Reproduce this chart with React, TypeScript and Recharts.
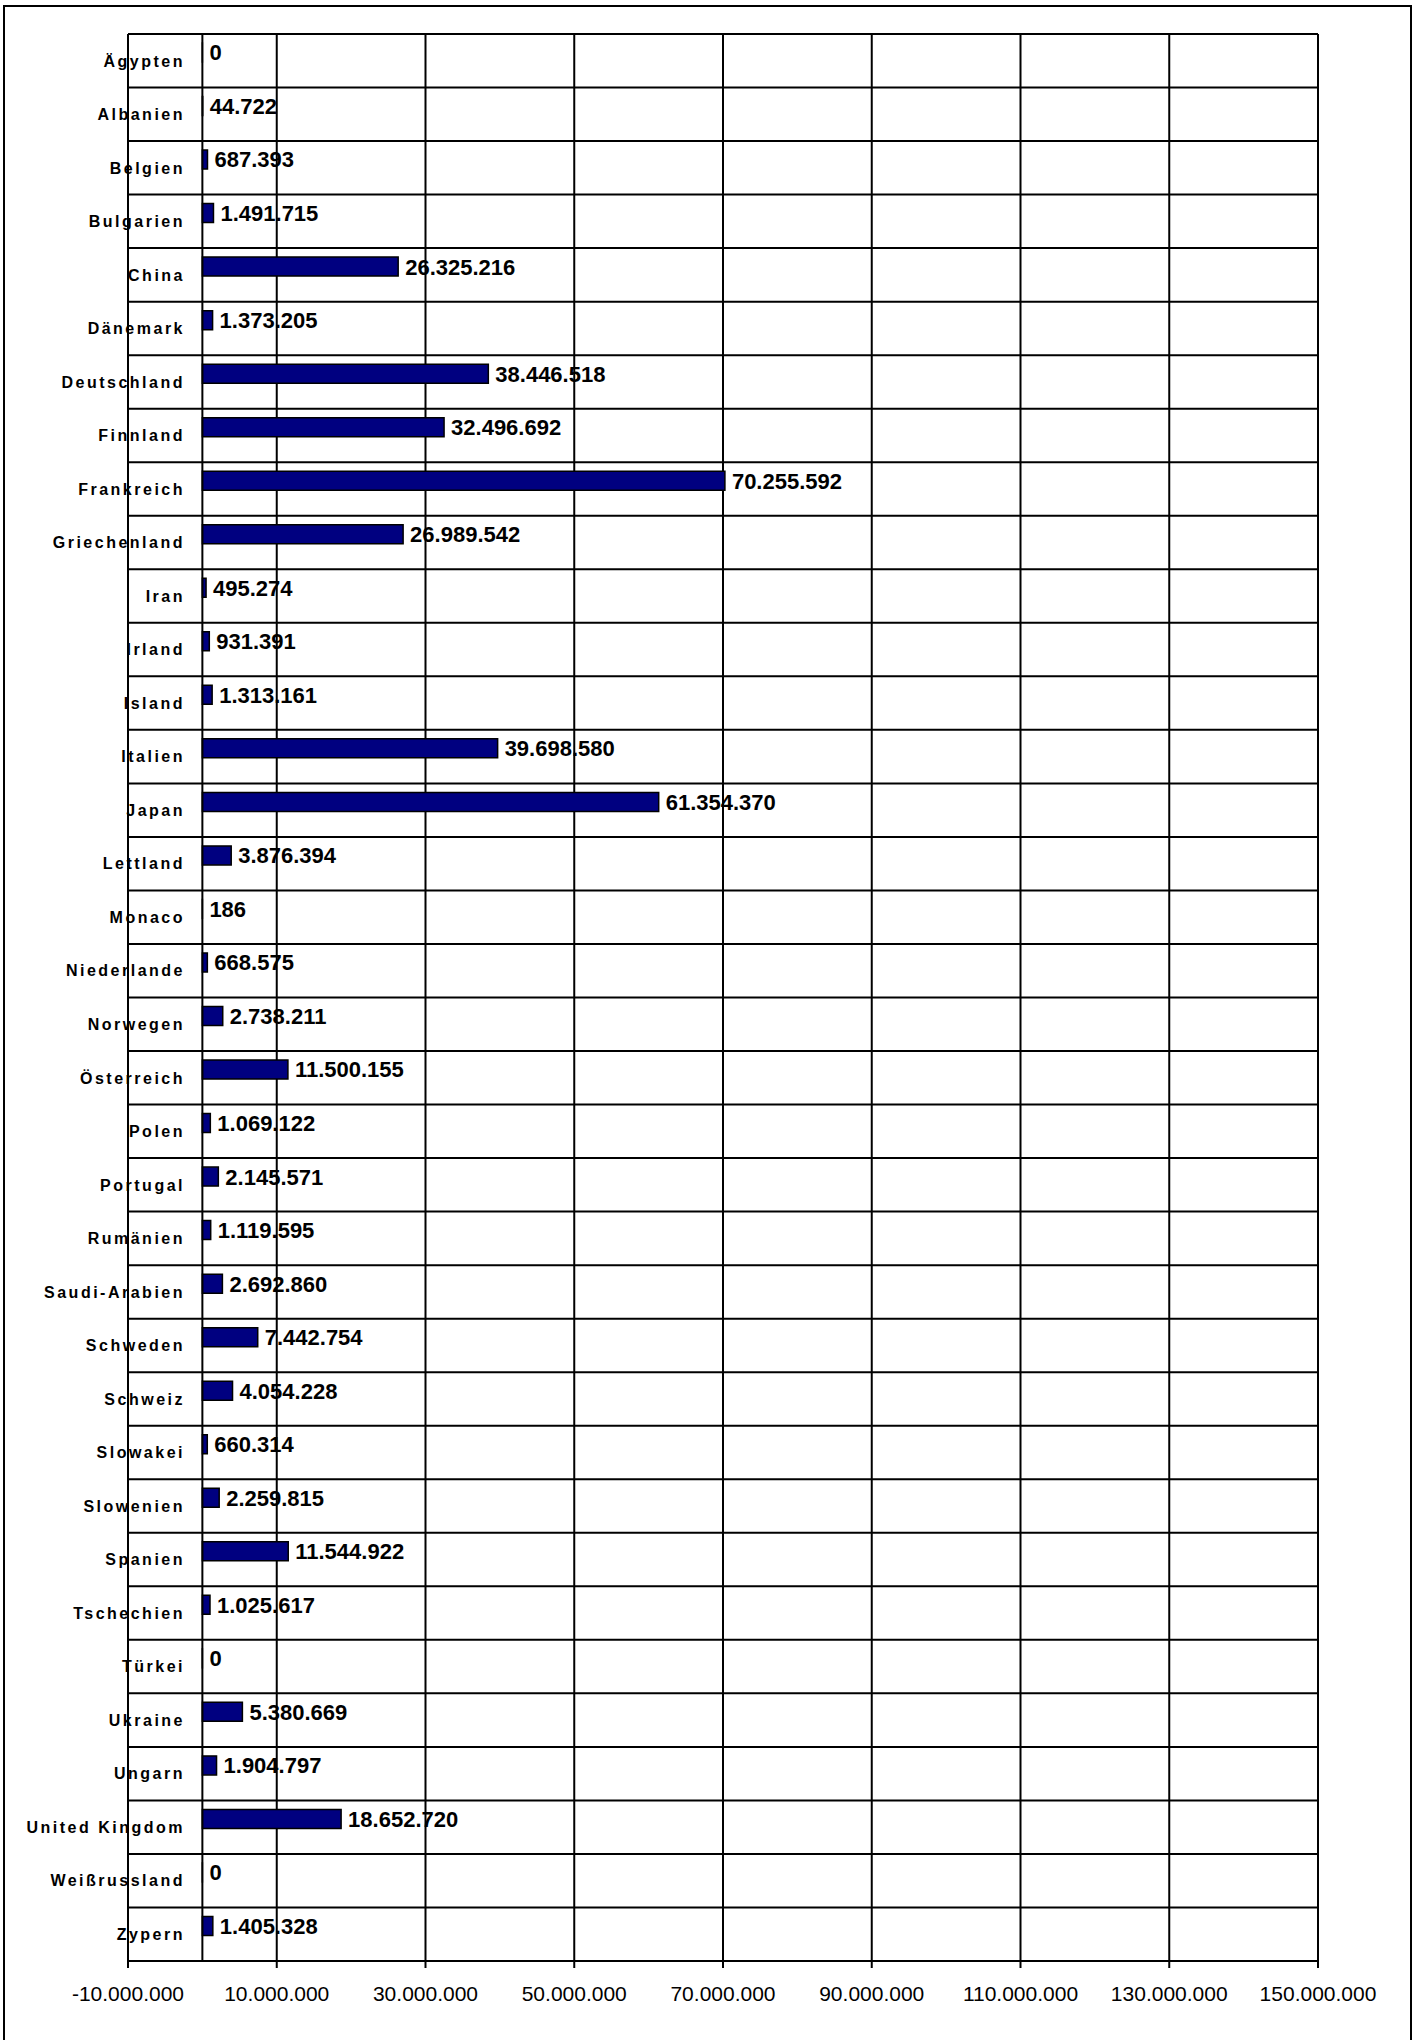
import React from "react";
import {
  BarChart,
  Bar,
  XAxis,
  YAxis,
  CartesianGrid,
  ReferenceLine,
  LabelList,
} from "recharts";

const laender = [
  "Ägypten", "Albanien", "Belgien", "Bulgarien", "China", "Dänemark",
  "Deutschland", "Finnland", "Frankreich", "Griechenland", "Iran", "Irland",
  "Island", "Italien", "Japan", "Lettland", "Monaco", "Niederlande",
  "Norwegen", "Österreich", "Polen", "Portugal", "Rumänien", "Saudi-Arabien",
  "Schweden", "Schweiz", "Slowakei", "Slowenien", "Spanien", "Tschechien",
  "Türkei", "Ukraine", "Ungarn", "United Kingdom", "Weißrussland", "Zypern",
];

const mengen = [
  0, 44722, 687393, 1491715, 26325216, 1373205,
  38446518, 32496692, 70255592, 26989542, 495274, 931391,
  1313161, 39698580, 61354370, 3876394, 186, 668575,
  2738211, 11500155, 1069122, 2145571, 1119595, 2692860,
  7442754, 4054228, 660314, 2259815, 11544922, 1025617,
  0, 5380669, 1904797, 18652720, 0, 1405328,
];

const xTicks = [
  -10000000, 10000000, 30000000, 50000000, 70000000,
  90000000, 110000000, 130000000, 150000000,
];

const data = laender.map((land, i) => ({ land, menge: mengen[i] }));

const FONT = "'Liberation Sans', Arial, sans-serif";

// deutsche Tausenderpunkte
const fmt = (v: number) =>
  (v < 0 ? "-" : "") + String(Math.abs(v)).replace(/\B(?=(\d{3})+(?!\d))/g, ".");

function LandTick(props: any) {
  const { x, y, payload } = props;
  return (
    <text
      x={x + 57}
      y={y}
      dy="0.36em"
      textAnchor="end"
      fontFamily={FONT}
      fontWeight="bold"
      fontSize={16}
      letterSpacing={2.5}
      fill="#000"
    >
      {payload.value}
    </text>
  );
}

function WertLabel(props: any) {
  const { x, y, width, height, value } = props;
  return (
    <text
      x={Number(x) + Number(width) + 7}
      y={Number(y) + Number(height) / 2}
      dy="0.36em"
      textAnchor="start"
      fontFamily={FONT}
      fontWeight="bold"
      fontSize={22}
      fill="#000"
    >
      {fmt(Number(value))}
    </text>
  );
}

export default function App() {
  const n = laender.length;
  return (
    <div style={{ position: "absolute", left: 0, top: 0, width: 1418, height: 2040, background: "#fff" }}>
      <div
        style={{
          position: "absolute",
          left: 3,
          top: 5,
          width: 1409,
          height: 2100,
          border: "2px solid #000",
          boxSizing: "border-box",
        }}
      />
      <div style={{ position: "absolute", left: 0, top: 0 }}>
        <BarChart
          width={1418}
          height={2040}
          data={data}
          layout="vertical"
          margin={{ top: 34, right: 100, bottom: 0, left: 0 }}
          barGap={0}
          style={{ fontFamily: FONT }}
        >
          <CartesianGrid
            stroke="#000"
            strokeWidth={2}
            horizontalCoordinatesGenerator={({ offset }: any) =>
              Array.from({ length: n + 1 }, (_, i) => offset.top + (i * offset.height) / n)
            }
          />
          <XAxis
            type="number"
            domain={[-10000000, 150000000]}
            ticks={xTicks}
            interval={0}
            tickFormatter={fmt}
            height={79}
            axisLine={{ stroke: "#000", strokeWidth: 2 }}
            tickLine={{ stroke: "#000", strokeWidth: 2 }}
            tickSize={7}
            tickMargin={18}
            tick={{ fill: "#000", fontSize: 21, fontFamily: FONT }}
          />
          <YAxis
            type="category"
            dataKey="land"
            width={128}
            interval={0}
            axisLine={false}
            tickLine={false}
            tickSize={0}
            tickMargin={0}
            tick={(p: any) => <LandTick {...p} />}
          />
          <Bar
            dataKey="menge"
            fill="#000080"
            stroke="#000"
            strokeWidth={1.5}
            barSize={19}
            minPointSize={0.01}
            isAnimationActive={false}
          >
            <LabelList dataKey="menge" content={(p: any) => <WertLabel {...p} />} />
          </Bar>
          <Bar dataKey="leer" barSize={16} fill="none" isAnimationActive={false} />
          <ReferenceLine x={0} stroke="#000" strokeWidth={2} />
        </BarChart>
      </div>
    </div>
  );
}
